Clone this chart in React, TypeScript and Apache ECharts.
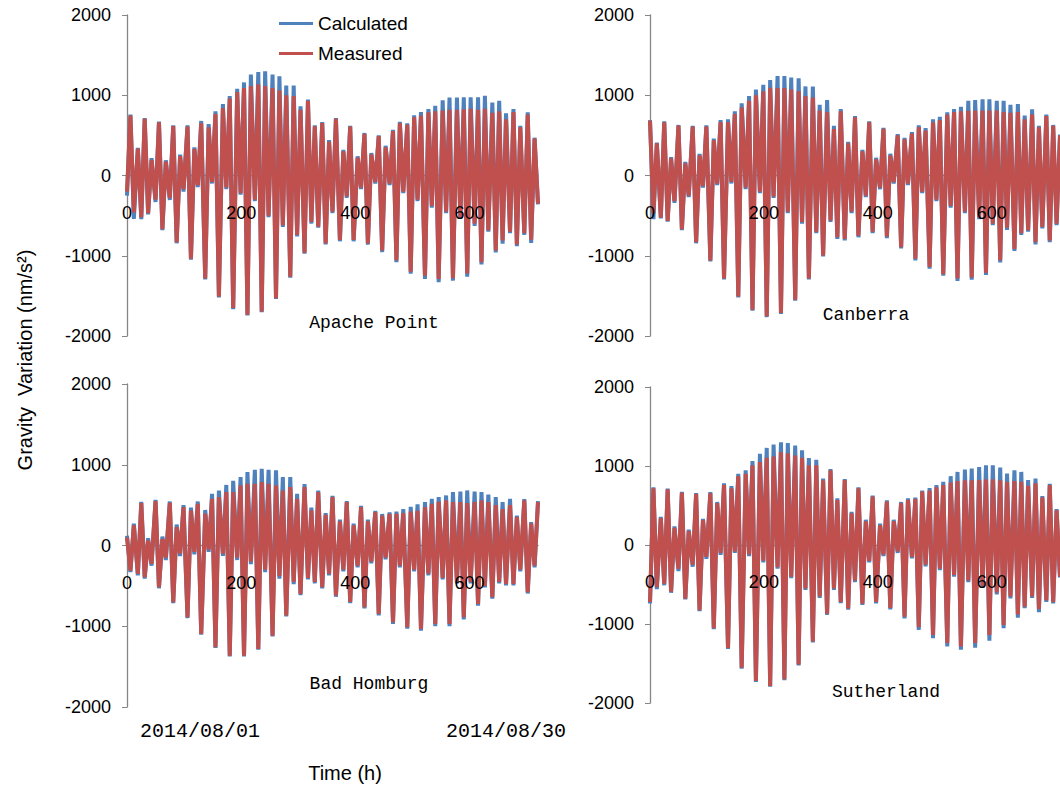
import React, { useEffect, useRef } from "react";
import * as echarts from "echarts";

// Hours of successive tidal extrema (h)
const HOURS = [0,6,12,19,25,31,37,43,50,56,62,68,75,81,87,93,99,106,112,118,124,130,137,143,149,155,161,168,174,180,186,193,199,205,211,217,224,230,236,242,248,255,261,267,273,279,286,292,298,304,311,317,323,329,335,342,348,354,360,366,373,379,385,391,397,404,410,416,422,428,435,441,447,453,460,466,472,478,484,491,497,503,509,515,522,528,534,540,546,553,559,565,571,578,584,590,596,602,609,615,621,627,633,640,646,652,658,664,671,677,683,689,696,702,708,714,720];

const X_TICKS = { min: 0, max: 720, interval: 200 };
const Y_TICKS = { min: -2000, max: 2000, interval: 1000 };

// Apache Point
const AP_MEAS = [-200,746,-460,336,-520,705,-470,193,-300,664,-668,172,-280,615,-832,240,-170,610,-1037,330,-120,650,-1283,600,-80,766,-1508,840,-150,960,-1652,1040,-220,1090,-1734,1115,-300,1135,-1693,1115,-500,1090,-1529,1060,-620,1000,-1262,990,-740,820,-962,930,-580,612,-637,654,-846,420,-450,705,-804,300,-260,610,-804,220,-150,520,-846,260,-80,490,-934,350,-100,553,-1057,652,-200,631,-1200,725,-300,746,-1250,787,-380,800,-1290,810,-450,820,-1280,820,-520,825,-1220,830,-600,820,-1080,830,-680,780,-934,800,-810,700,-700,790,-860,600,-720,760,-800,460,-350];
const AP_CALC = [-250,760,-540,345,-545,715,-485,215,-330,672,-680,190,-305,625,-845,260,-200,625,-1050,350,-145,680,-1295,640,-100,800,-1520,890,-170,990,-1665,1080,-240,1160,-1745,1258,-320,1288,-1705,1300,-520,1258,-1540,1237,-640,1120,-1275,1120,-760,862,-975,946,-600,625,-650,665,-860,440,-470,717,-820,320,-280,620,-820,240,-170,530,-862,280,-100,500,-955,370,-120,570,-1080,670,-220,650,-1225,750,-320,790,-1290,828,-400,869,-1330,938,-470,971,-1310,971,-540,975,-1260,975,-630,975,-1110,992,-700,910,-960,930,-850,775,-720,828,-880,620,-740,787,-840,471,-360];

// Canberra
const CB_MEAS = [684,-470,400,-525,664,-566,213,-320,623,-668,150,-250,610,-832,250,-130,610,-1057,440,-100,664,-1283,664,-80,766,-1508,848,-150,930,-1672,1000,-200,1050,-1754,1094,-260,1090,-1713,1090,-450,1070,-1549,1050,-580,990,-1283,970,-700,810,-996,790,-560,580,-770,800,-791,400,-450,725,-750,300,-250,664,-700,200,-150,582,-760,250,-80,500,-893,450,-100,520,-1037,602,-200,560,-1140,664,-300,690,-1230,760,-380,790,-1283,800,-450,805,-1270,810,-520,810,-1210,810,-600,810,-1057,790,-650,780,-914,790,-720,700,-680,760,-830,600,-640,740,-810,620,-600,500];
const CB_CALC = [690,-545,410,-535,675,-575,230,-340,630,-680,170,-270,620,-845,270,-150,625,-1070,460,-120,690,-1295,700,-100,800,-1520,900,-170,990,-1685,1070,-220,1130,-1765,1189,-280,1238,-1725,1238,-470,1220,-1560,1210,-600,1110,-1295,1110,-720,880,-1010,940,-580,620,-790,828,-810,420,-470,740,-770,320,-270,675,-720,220,-170,595,-780,270,-100,515,-910,470,-120,540,-1060,625,-220,590,-1160,700,-320,730,-1250,787,-400,828,-1315,856,-470,930,-1300,940,-545,950,-1240,950,-620,930,-1085,930,-680,881,-940,889,-740,746,-700,825,-860,620,-660,760,-830,630,-620,510];

// Bad Homburg
const BH_MEAS = [100,-310,250,-351,525,-392,60,-227,550,-516,80,-150,529,-702,227,-100,475,-888,434,-80,516,-1095,393,-50,578,-1260,600,-100,661,-1364,661,-150,744,-1364,765,-200,764,-1281,785,-300,764,-1116,744,-380,680,-867,723,-450,578,-599,722,-400,434,-450,660,-516,380,-350,600,-619,300,-300,537,-700,250,-250,475,-764,300,-200,413,-847,370,-150,390,-950,392,-250,400,-1012,420,-300,430,-1033,475,-350,516,-971,540,-400,558,-971,537,-450,537,-888,525,-450,537,-723,558,-500,537,-640,500,-450,450,-475,500,-475,351,-300,558,-579,270,-250,537];
const BH_CALC = [120,-330,270,-370,540,-410,90,-250,565,-530,110,-180,545,-715,260,-130,500,-900,470,-110,545,-1105,440,-80,640,-1270,680,-130,750,-1375,800,-180,847,-1375,909,-230,938,-1290,950,-330,938,-1125,930,-410,847,-880,847,-480,640,-615,760,-420,470,-470,680,-530,400,-370,615,-635,320,-320,550,-715,270,-270,490,-780,320,-220,430,-865,390,-170,410,-970,420,-270,450,-1030,480,-320,510,-1055,537,-370,578,-1000,599,-420,620,-1000,661,-470,669,-915,682,-470,669,-745,661,-520,632,-660,600,-470,537,-495,578,-495,370,-320,575,-595,290,-270,550];

// Sutherland
const SL_MEAS = [-721,717,-533,342,-490,704,-590,217,-300,662,-679,175,-250,646,-825,313,-150,654,-1054,529,-100,758,-1304,717,-80,871,-1554,900,-120,1010,-1721,1050,-200,1104,-1783,1120,-280,1175,-1700,1160,-400,1133,-1512,1104,-550,1008,-1221,1008,-650,820,-870,946,-550,570,-720,821,-804,400,-450,717,-742,300,-200,612,-721,250,-120,550,-796,300,-80,529,-908,570,-150,583,-1040,675,-250,690,-1140,730,-300,760,-1240,790,-380,810,-1283,820,-450,820,-1240,821,-520,830,-1140,830,-600,820,-1012,800,-650,810,-880,800,-780,750,-650,780,-810,602,-700,758,-720,440,-400];
const SL_CALC = [-740,730,-560,355,-510,715,-605,235,-330,672,-690,195,-275,656,-838,330,-175,670,-1066,545,-125,780,-1316,745,-100,900,-1566,946,-140,1062,-1733,1154,-220,1229,-1795,1271,-300,1300,-1712,1290,-420,1260,-1525,1200,-570,1100,-1235,1080,-670,840,-885,960,-570,590,-735,835,-820,420,-470,730,-760,320,-220,625,-740,270,-140,565,-815,320,-100,545,-930,590,-170,600,-1075,690,-270,720,-1179,758,-320,800,-1283,871,-400,925,-1325,954,-470,967,-1300,988,-545,1008,-1212,1008,-625,980,-1054,904,-675,946,-920,925,-800,821,-670,842,-850,620,-720,775,-740,455,-410];

const STATIONS = ["Apache Point", "Canberra", "Bad Homburg", "Sutherland"];
const MEAS = [AP_MEAS, CB_MEAS, BH_MEAS, SL_MEAS];
const CALC = [AP_CALC, CB_CALC, BH_CALC, SL_CALC];
const DATE_LABELS = ["2014/08/01", "2014/08/30"];

const GRIDS = [
  { left: 127, top: 15, width: 411, height: 321 },
  { left: 650, top: 15, width: 411, height: 321 },
  { left: 127, top: 384, width: 411, height: 323 },
  { left: 650, top: 387, width: 411, height: 316 },
];
const STATION_POS = [
  [374, 323],
  [866, 315],
  [369, 684],
  [886, 692],
];

const BLUE = "#4F81BD";
const RED = "#C0504D";
const AXIS = "#868686";

export default function App() {
  const ref = useRef<HTMLDivElement>(null);
  useEffect(() => {
    if (!ref.current) return;
    const chart = echarts.init(ref.current, null, { renderer: "svg" });
    const pair = (arr: number[]) => arr.map((v, i) => [HOURS[i], v]);
    const series: any[] = [];
    STATIONS.forEach((s, i) => {
      series.push({
        name: "Calculated",
        type: "line",
        xAxisIndex: i,
        yAxisIndex: i,
        data: pair(CALC[i]),
        showSymbol: false,
        symbol: "none",
        lineStyle: { width: 4, color: BLUE },
        itemStyle: { color: BLUE },
        z: 2,
      });
      series.push({
        name: "Measured",
        type: "line",
        xAxisIndex: i,
        yAxisIndex: i,
        data: pair(MEAS[i]),
        showSymbol: false,
        symbol: "none",
        lineStyle: { width: 4, color: RED },
        itemStyle: { color: RED },
        z: 3,
      });
    });
    const baseX = (g: any, i: number) => ({
      type: "value",
      gridIndex: i,
      position: "bottom",
      offset: -g.height / 2,
      min: X_TICKS.min,
      max: X_TICKS.max,
      interval: X_TICKS.interval,
      axisTick: { show: false },
      splitLine: { show: false },
    });
    const lineAxes = GRIDS.map((g, i) => ({
      ...baseX(g, i),
      z: 0,
      axisLine: { show: true, onZero: false, lineStyle: { color: AXIS, width: 1.3 } },
      axisLabel: { show: false },
    }));
    const labelAxes = GRIDS.map((g, i) => ({
      ...baseX(g, i),
      z: 10,
      axisLine: { show: false, onZero: false },
      axisLabel: {
        margin: 28,
        fontSize: 18,
        color: "#000",
        fontFamily: "Liberation Sans",
        showMaxLabel: false,
      },
    }));
    const option: any = {
      animation: false,
      backgroundColor: "#fff",
      grid: GRIDS.map((g) => ({ ...g, containLabel: false })),
      xAxis: [...lineAxes, ...labelAxes],
      yAxis: GRIDS.map((_, i) => ({
        type: "value",
        gridIndex: i,
        min: Y_TICKS.min,
        max: Y_TICKS.max,
        interval: Y_TICKS.interval,
        axisLine: { show: true, onZero: false, lineStyle: { color: AXIS, width: 1.3 } },
        axisTick: { show: true, length: 5, lineStyle: { color: AXIS } },
        splitLine: { show: false },
        axisLabel: {
          margin: 16,
          fontSize: 18,
          color: "#000",
          fontFamily: "Liberation Sans",
          formatter: (v: number) => String(v),
        },
      })),
      legend: {
        data: ["Calculated", "Measured"],
        orient: "vertical",
        left: 274,
        top: 9,
        itemWidth: 34,
        itemHeight: 3,
        itemGap: 11,
        icon: "rect",
        textStyle: { fontSize: 19, color: "#000", fontFamily: "Liberation Sans" },
      },
      graphic: [
        ...STATIONS.map((s, i) => ({
          type: "text",
          x: STATION_POS[i][0],
          y: STATION_POS[i][1],
          style: {
            text: s,
            fill: "#000",
            font: "18px 'Liberation Mono'",
            textAlign: "center",
            textVerticalAlign: "middle",
          },
        })),
        {
          type: "text",
          x: 200,
          y: 731,
          style: { text: DATE_LABELS[0], fill: "#000", font: "20px 'Liberation Mono'", textAlign: "center", textVerticalAlign: "middle" },
        },
        {
          type: "text",
          x: 506,
          y: 731,
          style: { text: DATE_LABELS[1], fill: "#000", font: "20px 'Liberation Mono'", textAlign: "center", textVerticalAlign: "middle" },
        },
        {
          type: "text",
          x: 345,
          y: 773,
          style: { text: "Time (h)", fill: "#000", font: "20px 'Liberation Sans'", textAlign: "center", textVerticalAlign: "middle" },
        },
        {
          type: "text",
          x: 25,
          y: 360,
          rotation: Math.PI / 2,
          style: {
            text: "Gravity  Variation (nm/s²)",
            fill: "#000",
            font: "20px 'Liberation Sans'",
            textAlign: "center",
            textVerticalAlign: "middle",
          },
        },
      ],
      series,
    };
    chart.setOption(option);
    return () => chart.dispose();
  }, []);
  return (
    <div
      ref={ref}
      style={{ position: "absolute", left: 0, top: 0, width: 1060, height: 790, background: "#fff" }}
    />
  );
}
